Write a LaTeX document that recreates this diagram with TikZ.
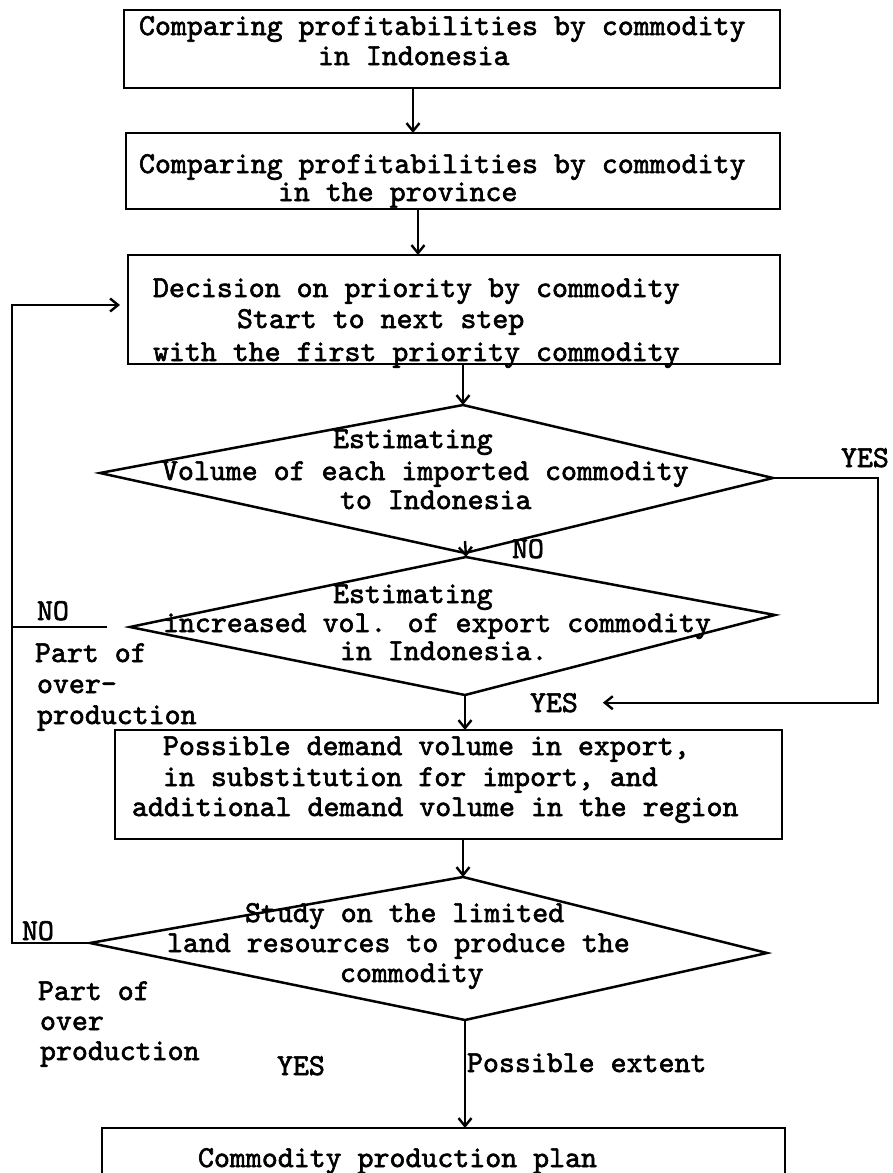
\documentclass[tikz,border=0pt]{standalone}
\usepackage{fontspec}
\usetikzlibrary{arrows.meta,calc}
\newfontfamily\twfont[FakeBold=2]{lmmono10-regular.otf}

\tikzset{
  tw/.style={font=\twfont\fontsize{30.4}{32}\selectfont, anchor=base west, inner sep=0pt, outer sep=0pt},
  box/.style={draw, line width=2.8pt, rectangle, inner sep=0pt, outer sep=0pt},
  dline/.style={line width=2.5pt, line join=miter},
  conn/.style={line width=2.4pt},
  arr/.style={conn, -{Straight Barb[length=8pt,width=13pt]}},
}

\begin{document}
\begin{tikzpicture}[x=1pt, y=-1pt]
\useasboundingbox (0,0) rectangle (892,1173);
\clip (0,0) rectangle (892,1173);
\fill[white] (0,0) rectangle (892,1173);

% ---- process boxes ----
\node[box, minimum width=656pt, minimum height=78pt]  (b1) at (452,49) {};
\node[box, minimum width=654pt, minimum height=76pt]  (b2) at (453,171) {};
\node[box, minimum width=652pt, minimum height=109pt] (b3) at (454,309.5) {};
\node[box, minimum width=667pt, minimum height=109pt] (b4) at (448.5,784.5) {};
\node[box, minimum width=683pt, minimum height=70pt]  (b5) at (443.5,1163) {};

% ---- decision diamonds ----
\coordinate (d1n) at (463,405);
\coordinate (d1e) at (773,478);
\coordinate (d1s) at (465,553);
\coordinate (d1w) at (100,473);
\draw[dline] (d1n) -- (d1e) -- (d1s) -- (d1w) -- cycle;

\coordinate (d2n) at (466,557);
\coordinate (d2e) at (775,615);
\coordinate (d2s) at (465,695);
\coordinate (d2w) at (130,627);
\draw[dline] (d2n) -- (d2e) -- (d2s) -- (d2w) -- cycle;

\coordinate (d3n) at (463,877);
\coordinate (d3e) at (767,953);
\coordinate (d3s) at (465,1020);
\coordinate (d3w) at (90,943);
\draw[dline] (d3n) -- (d3e) -- (d3s) -- (d3w) -- cycle;

% ---- box texts ----
\node[tw] (t1a) at (139,35)  {Comparing profitabilities by commodity};
\node[tw] (t1b) at (318,65)  {in Indonesia};
\node[tw] (t2a) at (139,173) {Comparing profitabilities by commodity};
\node[tw] (t2b) at (278,201) {in the province};
\node[tw] (t3a) at (153,297) {Decision on priority by commodity};
\node[tw] (t3b) at (237,328) {Start to next step};
\node[tw] (t3c) at (153,361) {with the first priority commodity};

\node[tw] (t4a) at (333,448) {Estimating};
\node[tw] (t4b) at (162,480) {Volume of each imported commodity};
\node[tw] (t4c) at (340,509) {to Indonesia};

\node[tw] (t5a) at (333,603) {Estimating};
\node[tw] (t5b) at (163,632) {increased vol. of export commodity};
\node[tw] (t5c) at (340,660) {in Indonesia.};

\node[tw] (t6a) at (163,755) {Possible demand volume in export,};
\node[tw] (t6b) at (163,786) {in substitution for import, and};
\node[tw] (t6c) at (132,816) {additional demand volume in the region};

\node[tw] (t7a) at (245,922) {Study on the limited};
\node[tw] (t7b) at (167,952) {land resources to produce the};
\node[tw] (t7c) at (340,982) {commodity};

\node[tw] (t8a) at (198,1167) {Commodity production plan};

% ---- branch labels ----
\node[tw] (yes1) at (841,467) {YES};
\node[tw] (no1)  at (512,558) {NO};
\node[tw] (yes2) at (530,712) {YES};
\node[tw] (no2)  at (37,620)  {NO};
\node[tw] (po1a) at (35,662)  {Part of};
\node[tw] (po1b) at (37,693)  {over-};
\node[tw] (po1c) at (37,724)  {production};
\node[tw] (no3)  at (22,940)  {NO};
\node[tw] (po2a) at (38,1000) {Part of};
\node[tw] (po2b) at (40,1030) {over};
\node[tw] (po2c) at (40,1060) {production};
\node[tw] (yes3) at (277,1075) {YES};
\node[tw] (ext)  at (467,1072) {Possible extent};

% ---- main flow ----
\draw[arr] (b1.south -| 413,0) -- (b2.north -| 413,0);
\draw[arr] (b2.south -| 418,0) -- (b3.north -| 418,0);
\draw[arr] (b3.south -| d1n) -- (d1n);
\draw[arr] ($(d1s)+(0,-12)$) -- (d2n);
\draw[arr] (d2s) -- (b4.north -| d2s);
\draw[arr] (b4.south -| d3n) -- (d3n);
\draw[arr] (d3s) -- (b5.north -| d3s);

% ---- YES bypass from the import check ----
\draw[arr, shorten >=25pt] (d1e) -- (d1e -| 878,0) |- (yes2.east);

% ---- NO branches back to the priority decision ----
\draw[conn, shorten <=23pt] (d2w) -- (d2w -| 12,0);
\draw[arr, shorten >=8pt] (d3w) -- (d3w -| 12,0) |- (b3.west |- 0,305);
\end{tikzpicture}
\end{document}
